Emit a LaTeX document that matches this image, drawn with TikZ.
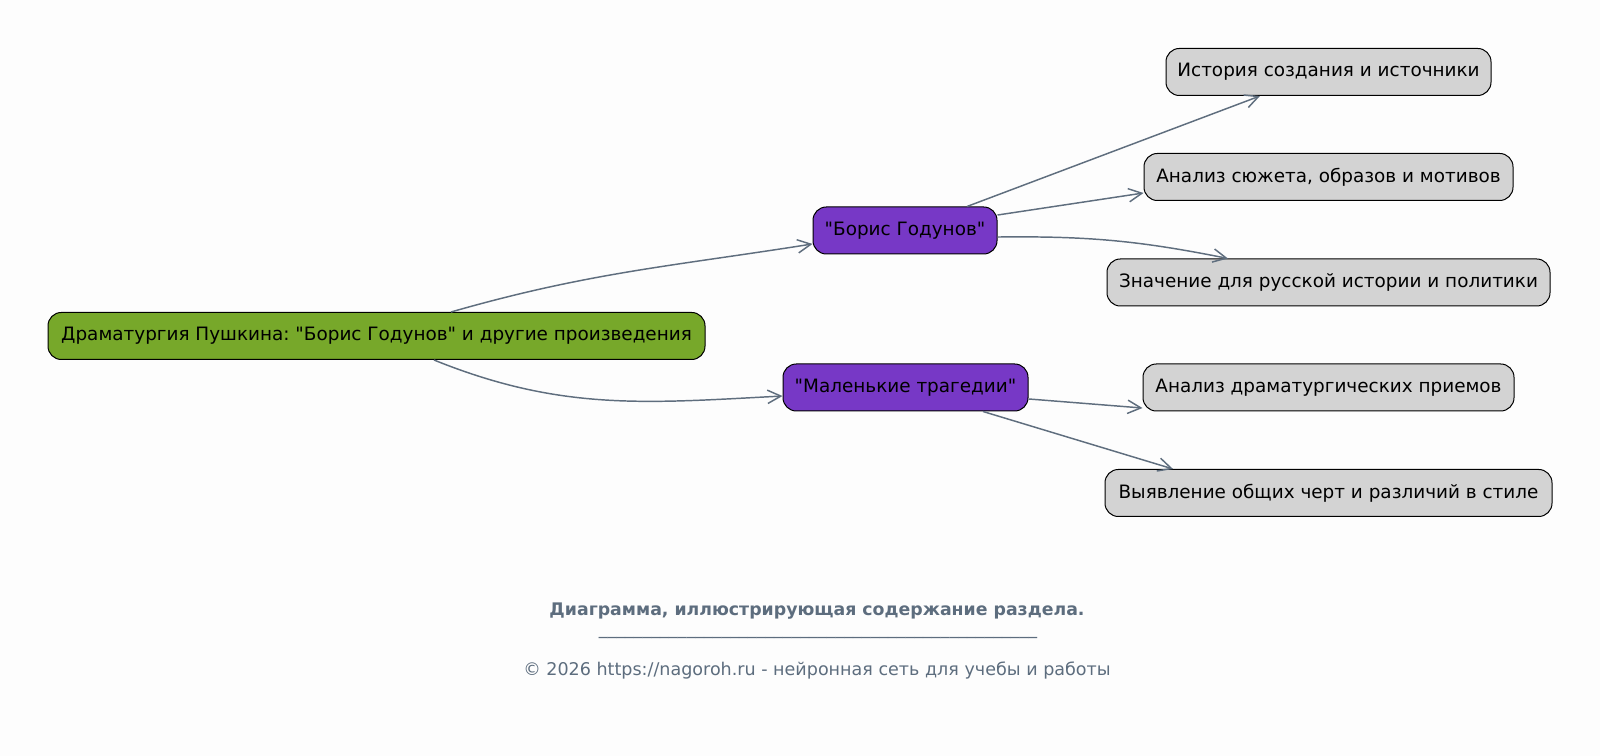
\documentclass[tikz,border=0pt]{standalone}
\usepackage{fontspec}
\setmainfont[Ligatures=TeXReset]{DejaVu Sans}
\usetikzlibrary{arrows.meta}
\frenchspacing
\definecolor{bgc}{HTML}{FDFDFD}
\definecolor{rootc}{HTML}{77A82A}
\definecolor{subc}{HTML}{7738C6}
\definecolor{leafc}{HTML}{D3D3D3}
\definecolor{edgec}{HTML}{5F6E7E}
\definecolor{capc}{HTML}{5D6D7E}
\tikzset{
  box/.style={draw=black, line width=0.75pt, rounded corners=10pt, minimum height=35.25pt,
    inner xsep=0pt, inner ysep=0pt, font=\fontsize{13.8pt}{16pt}\selectfont, text=black},
  rootbox/.style={box, fill=rootc},
  subbox/.style={box, fill=subc},
  leafbox/.style={box, fill=leafc},
  link/.style={draw=edgec, line width=1.1pt, -{Straight Barb[length=10pt, width=10pt, line width=1.1pt]}},
  captext/.style={text=capc, font=\fontsize{13.15pt}{15pt}\selectfont, inner sep=0pt}
}
\begin{document}
\begin{tikzpicture}[x=0.75pt, y=0.75pt]
\fill[bgc] (0,0) rectangle (1600,756);
\useasboundingbox (0,0) rectangle (1600,756);

\node[rootbox, minimum width=492.75pt] (root) at (376.5,420) {Драматургия Пушкина: "Борис Годунов" и другие произведения};
\node[subbox, minimum width=138pt] (boris) at (905,525.5) {"Борис Годунов"};
\node[subbox, minimum width=183.75pt] (mal) at (905.5,368.5) {"Маленькие трагедии"};
\node[leafbox, minimum width=243.75pt] (hist) at (1328.5,684) {История создания и источники};
\node[leafbox, minimum width=276.75pt] (sujet) at (1328.5,579) {Анализ сюжета, образов и мотивов};
\node[leafbox, minimum width=332.25pt] (znach) at (1328.5,473.5) {Значение для русской истории и политики};
\node[leafbox, minimum width=278.25pt] (dram) at (1328.5,368.5) {Анализ драматургических приемов};
\node[leafbox, minimum width=335.25pt] (vyyav) at (1328.5,263) {Выявление общих черт и различий в стиле};

\draw[link] ([xshift=55.9pt]root.north) to[out=16, in=189] ([yshift=-10.1pt]boris.west);
\draw[link] ([xshift=43.1pt]root.south) to[out=-22, in=183] ([yshift=-6.4pt]mal.west);
\draw[link] ([xshift=46.5pt]boris.north) -- ([xshift=-51.4pt]hist.south);
\draw[link] ([yshift=11.6pt]boris.east) -- ([yshift=-12pt]sujet.west);
\draw[link] ([yshift=-4.9pt]boris.east) to[bend left=6] ([xshift=-75.4pt]znach.north);
\draw[link] ([yshift=-8.6pt]mal.east) -- ([yshift=-15.4pt]dram.west);
\draw[link] ([xshift=58.1pt]mal.south) -- ([xshift=-116.6pt]vyyav.north);

\node[captext, font=\fontsize{13pt}{15pt}\selectfont\bfseries] (cap) at (817,145) {Диаграмма, иллюстрирующая содержание раздела.};
\node[captext] (rule) at (818,119) {\_\_\_\_\_\_\_\_\_\_\_\_\_\_\_\_\_\_\_\_\_\_\_\_\_\_\_\_\_\_\_\_\_\_\_\_\_\_\_\_\_\_\_\_\_\_\_\_\_\_};
\node[captext] (copy) at (817,85) {© 2026 https://nagoroh.ru - нейронная сеть для учебы и работы};
\end{tikzpicture}
\end{document}
